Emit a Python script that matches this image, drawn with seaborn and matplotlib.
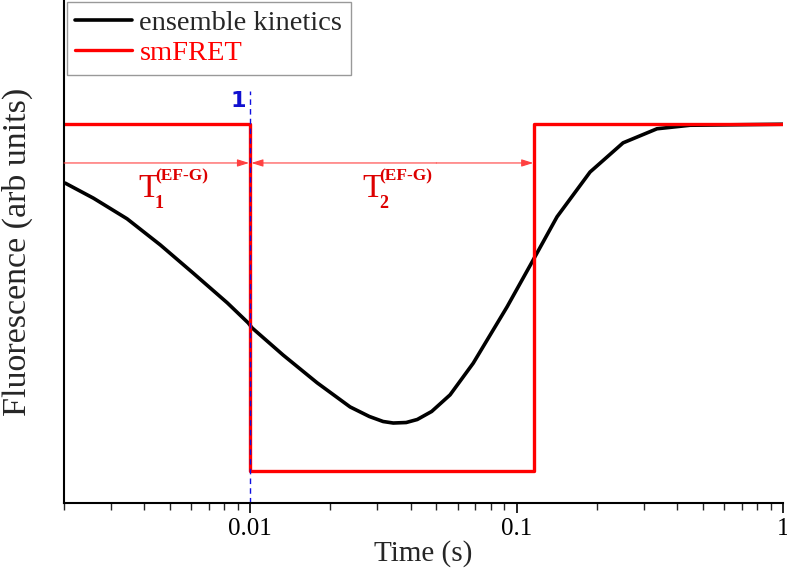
import numpy as np
import pandas as pd
import matplotlib
matplotlib.use('Agg')
import matplotlib.pyplot as plt
import seaborn as sns

# ensemble kinetics curve
t_ens = [0.00202, 0.00258, 0.00345, 0.00460, 0.00611, 0.00820, 0.00983,
         0.01017, 0.01330, 0.01783, 0.02371, 0.02800, 0.03155, 0.03443,
         0.03850, 0.04237, 0.04800, 0.05627, 0.06874, 0.09210, 0.11426,
         0.14183, 0.18867, 0.25099, 0.33651, 0.44762, 1.0]
f_ens = [0.636, 0.606, 0.565, 0.513, 0.457, 0.398, 0.358,
         0.348, 0.294, 0.239, 0.191, 0.172, 0.162, 0.159,
         0.160, 0.166, 0.182, 0.215, 0.278, 0.390, 0.479,
         0.569, 0.658, 0.716, 0.744, 0.751, 0.753]

# smFRET step trace
t_sm = [0.002, 0.01, 0.01, 0.116, 0.116, 1.0]
f_sm = [0.753, 0.753, 0.064, 0.064, 0.753, 0.753]

xticks = [0.01, 0.1, 1]
xtick_labels = ['0.01', '0.1', '1']

sns.set_style('white')
plt.rcParams['font.family'] = ['Liberation Serif', 'DejaVu Serif']

df_ens = pd.DataFrame({'t': t_ens, 'f': f_ens})
df_sm = pd.DataFrame({'t': t_sm, 'f': f_sm})

fig = plt.figure(figsize=(7.87, 5.76), dpi=100)
ax = fig.add_axes([64/787, 73/576, 719/787, 503/576])

sns.lineplot(data=df_ens, x='t', y='f', ax=ax, color='black', lw=2.6,
             estimator=None, sort=False, label='ensemble kinetics')
sns.lineplot(data=df_sm, x='t', y='f', ax=ax, color='#ff0000', lw=2.4,
             estimator=None, sort=False, label='smFRET')
for ln in ax.get_lines():
    ln.set_solid_joinstyle('round')

ax.set_xscale('log')
ax.set_xlim(0.002, 1.0)
ax.set_ylim(0, 1)

# marker line at event 1
ax.plot([0.01, 0.01], [0, 0.82], ls=(0, (4, 3)), color='#1010e0', lw=1.0)
ax.text(0.00966, 0.80, '1', color='#1010d0', fontsize=16, fontweight='bold',
        family='DejaVu Sans', ha='right', va='center')

# dwell-time arrows
arr = dict(arrowstyle='-|>,head_length=0.7,head_width=0.22', color='#ff4040',
           lw=0.8, shrinkA=0, shrinkB=0)
ax.annotate('', xy=(0.0099, 0.676), xytext=(0.002, 0.676), arrowprops=arr)
ax.annotate('', xy=(0.0101, 0.676), xytext=(0.05, 0.676), arrowprops=arr)
ax.annotate('', xy=(0.1155, 0.676), xytext=(0.05, 0.676), arrowprops=arr)

lab_col = '#dd0000'
for tx, sub in [(0.0038, '1'), (0.0263, '2')]:
    ax.text(tx, 0.608, 'T', color=lab_col, fontsize=24, ha='left', va='baseline')
    ax.text(tx * 1.155, 0.586, sub, color=lab_col, fontsize=13,
            fontweight='bold', ha='left', va='baseline')
    ax.text(tx * 1.155, 0.641, '(EF-G)', color=lab_col, fontsize=12.5,
            fontweight='bold', ha='left', va='baseline')

ax.set_xticks(xticks)
ax.set_xticklabels(xtick_labels)
ax.set_yticks([])
ax.tick_params(axis='x', which='major', direction='out', length=7, width=1.2,
               bottom=True, labelsize=18, colors='black', pad=4)
ax.tick_params(axis='x', which='minor', direction='out', length=5, width=1.0,
               bottom=True)
for s in ['top', 'right']:
    ax.spines[s].set_visible(False)
for s in ['left', 'bottom']:
    ax.spines[s].set_color('black')
    ax.spines[s].set_linewidth(1.5)

ax.set_xlabel('Time (s)', fontsize=21, labelpad=0)
ax.set_ylabel('Fluorescence (arb units)', fontsize=24.5, labelpad=22)

leg = ax.legend(loc='upper left', bbox_to_anchor=(0.004, 0.997), fontsize=20.5,
                frameon=True, fancybox=False, edgecolor='#808080',
                borderaxespad=0, handlelength=2.0, handletextpad=0.25,
                labelspacing=0.15, borderpad=0.3)
leg.get_frame().set_linewidth(1.0)
leg.get_texts()[1].set_color('#ff0000')

fig.savefig('out.png', dpi=100)
